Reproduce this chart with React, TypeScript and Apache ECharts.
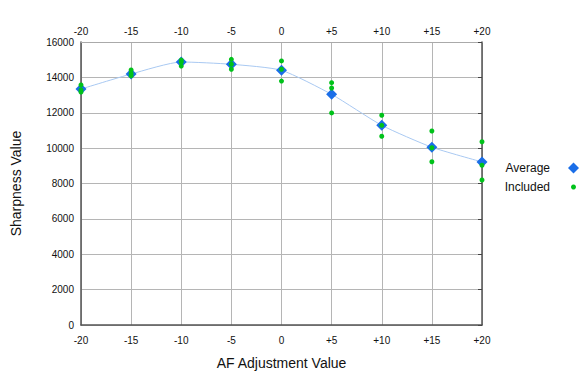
import React, { useEffect, useRef } from "react";
import * as echarts from "echarts";

const adjustments = [-20, -15, -10, -5, 0, 5, 10, 15, 20];
const averageValues = [13340, 14190, 14870, 14740, 14400, 13040, 11290, 10050, 9220];
const includedX = [
  -20, -20, -20,
  -15, -15, -15,
  -10, -10, -10,
  -5, -5, -5,
  0, 0, 0,
  5, 5, 5,
  10, 10, 10,
  15, 15, 15,
  20, 20, 20,
];
const includedY = [
  13570, 13290, 13170,
  14420, 14230, 14090,
  14980, 14870, 14640,
  15020, 14740, 14460,
  14930, 14460, 13790,
  13700, 13400, 11990,
  11860, 11290, 10670,
  10970, 10020, 9230,
  10360, 9030, 8200,
];

const FONT = "'Liberation Sans', Arial, Helvetica, sans-serif";
const fmtX = (v: number) => (v > 0 ? "+" + v : String(v));

export default function App() {
  const ref = useRef<HTMLDivElement>(null);
  useEffect(() => {
    if (!ref.current) return;
    const chart = echarts.init(ref.current, null, { renderer: "svg" });
    const axisCommon = {
      type: "value" as const,
      min: -20,
      max: 20,
      interval: 5,
    };
    chart.setOption({
      animation: false,
      backgroundColor: "#ffffff",
      textStyle: { fontFamily: FONT },
      grid: { left: 81, right: 104, top: 42, bottom: 62, show: false },
      legend: [
        {
          orient: "vertical",
          right: 2,
          top: 157,
          align: "right",
          itemWidth: 11,
          itemHeight: 11,
          data: [{ name: "Average", icon: "diamond" }],
          textStyle: { fontSize: 12, color: "#111", fontFamily: FONT, padding: [0, 13, 0, 0] },
          selectedMode: false,
        },
        {
          orient: "vertical",
          right: 5,
          top: 176,
          align: "right",
          itemWidth: 5,
          itemHeight: 5,
          data: [{ name: "Included", icon: "circle" }],
          textStyle: { fontSize: 12, color: "#111", fontFamily: FONT, padding: [0, 16, 0, 0] },
          selectedMode: false,
        },
      ],
      xAxis: [
        {
          ...axisCommon,
          position: "bottom",
          name: "AF Adjustment Value",
          nameLocation: "middle",
          nameGap: 31,
          nameTextStyle: { fontSize: 14, color: "#111", fontFamily: FONT },
          axisLine: { show: true, onZero: false, lineStyle: { color: "#555", width: 1.5 } },
          axisTick: { show: false },
          axisLabel: { formatter: fmtX, fontSize: 10, color: "#111", margin: 10, fontFamily: FONT },
          splitLine: { show: true, lineStyle: { color: "#b5b5b5", width: 1 } },
        },
        {
          ...axisCommon,
          position: "top",
          axisLine: { show: true, onZero: false, lineStyle: { color: "#aaa", width: 1 } },
          axisTick: { show: false },
          axisLabel: { formatter: fmtX, fontSize: 10, color: "#111", margin: 6, fontFamily: FONT },
          splitLine: { show: false },
        },
      ],
      yAxis: [
        {
          type: "value",
          min: 0,
          max: 16000,
          interval: 2000,
          position: "left",
          name: "Sharpness Value",
          nameLocation: "middle",
          nameGap: 58,
          nameRotate: 90,
          nameTextStyle: { fontSize: 14, color: "#111", fontFamily: FONT },
          axisLine: { show: true, onZero: false, lineStyle: { color: "#555", width: 1.5 } },
          axisTick: { show: false },
          axisLabel: { fontSize: 10, color: "#111", margin: 7, fontFamily: FONT, formatter: (v: number) => String(v) },
          splitLine: { show: true, lineStyle: { color: "#b5b5b5", width: 1 } },
        },
        {
          type: "value",
          min: 0,
          max: 16000,
          interval: 2000,
          position: "right",
          axisLine: { show: true, onZero: false, lineStyle: { color: "#555", width: 1.5 } },
          axisTick: { show: true, inside: true, length: 4, lineStyle: { color: "#444" } },
          axisLabel: { show: false },
          splitLine: { show: false },
        },
      ],
      series: [
        {
          name: "Average",
          type: "line",
          smooth: 0.2,
          data: adjustments.map((x, i) => [x, averageValues[i]]),
          symbol: "diamond",
          symbolSize: 11,
          lineStyle: { color: "#a9c9f2", width: 1 },
          itemStyle: { color: "#1a6ee8" },
          z: 3,
        },
        {
          name: "Included",
          type: "scatter",
          data: includedX.map((x, i) => [x, includedY[i]]),
          symbol: "circle",
          symbolSize: 5,
          itemStyle: { color: "#00c21a", opacity: 1 },
          z: 4,
        },
      ],
    });
    return () => chart.dispose();
  }, []);
  return <div ref={ref} style={{ width: 586, height: 387, position: "absolute", left: 0, top: 0 }} />;
}
